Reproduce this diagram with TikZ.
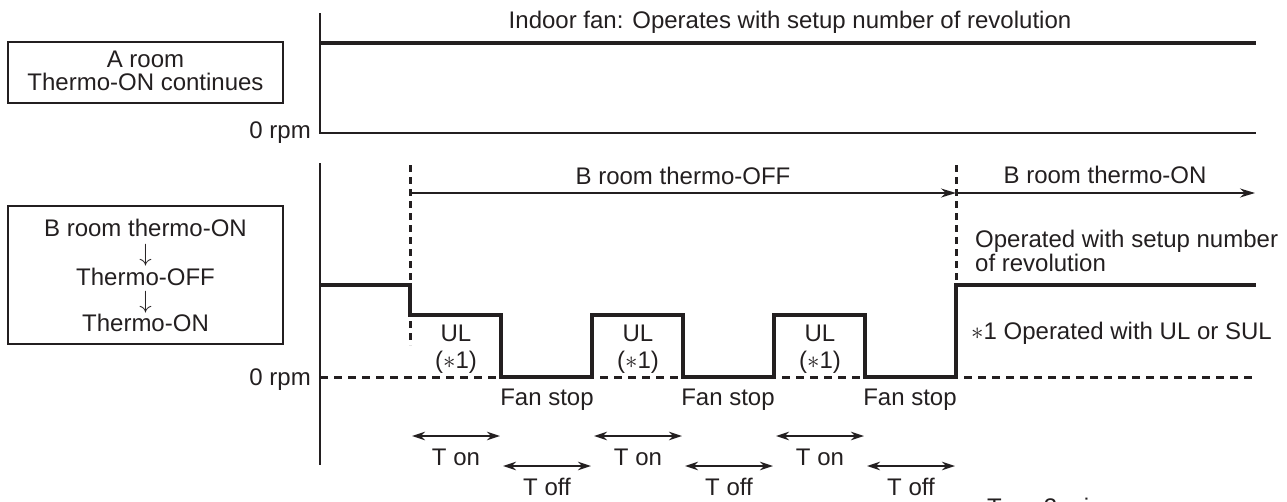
\documentclass[tikz,border=0pt]{standalone}
\usepackage{fontspec}
\setmainfont{Liberation Sans}
\usetikzlibrary{arrows.meta}
\definecolor{ink}{HTML}{231F20}
\begin{document}
\begin{tikzpicture}[x=1pt,y=-1pt,
  font=\fontsize{24}{27}\selectfont,
  every node/.style={inner sep=0pt, text=ink},
  lbl/.style={anchor=base},
  lbll/.style={anchor=base west},
  lblr/.style={anchor=base east},
  box/.style={draw=ink, line width=2.4pt, rectangle},
  axis/.style={draw=ink, line width=2.6pt},
  wave/.style={draw=ink, line width=4pt, line join=miter},
  zeroline/.style={draw=ink, line width=3pt, dash pattern=on 8pt off 6pt},
  vdash/.style={draw=ink, line width=3pt, dash pattern=on 7pt off 5pt},
  span/.style={draw=ink, line width=1.6pt, -{Stealth[length=15pt,width=9pt]}},
  dim/.style={draw=ink, line width=1.6pt, {Stealth[length=13pt,width=8.5pt]}-{Stealth[length=13pt,width=8.5pt]}}
]
\useasboundingbox (0,0) rectangle (1287,501);

% ---------- upper chart ----------
\node[box, minimum width=275pt, minimum height=61pt] (boxA) at (145.5,72.5) {};
\node[lbl] (boxAa) at (145.5,67) {A room};
\node[lbl] (boxAb) at (145.5,90) {Thermo-ON continues};

\coordinate (ta0) at (320,13);
\coordinate (tz0) at (320,133);
\coordinate (tz1) at (1256,133);
\coordinate (tl0) at (320,43);
\coordinate (tl1) at (1256,43);
\draw[axis] (ta0) -- (tz0) -- (tz1);
\draw[wave] (tl0) -- (tl1);
\node[lbl] (topt) at (790,28) {Indoor fan: Operates with setup number of revolution};
\node[lblr] (rpmA) at (311,138) {0 rpm};

% ---------- lower chart ----------
\node[box, minimum width=275pt, minimum height=138pt] (boxB) at (145.5,275) {};
\node[lbl] (boxB1) at (145.5,236) {B room thermo-ON};
\node[lbl] (boxB2) at (145.5,261) {$\downarrow$};
\node[lbl] (boxB3) at (145.5,285) {Thermo-OFF};
\node[lbl] (boxB4) at (145.5,308) {$\downarrow$};
\node[lbl] (boxB5) at (145.5,331) {Thermo-ON};

\coordinate (ba0) at (320,163);
\coordinate (ba1) at (320,465);
\draw[axis] (ba0) -- (ba1);
\coordinate (z0) at (320,377);
\coordinate (z1) at (1256,377);
\draw[zeroline] (z0) -- (z1);
\node[lblr] (rpmB) at (311,385) {0 rpm};

% vertical dashed markers
\coordinate (d1t) at (410,165);
\coordinate (d1b) at (410,345);
\coordinate (d2t) at (956,165);
\coordinate (d2b) at (956,285);
\draw[vdash] (d1t) -- (d1b);
\draw[vdash] (d2t) -- (d2b);

% waveform
\coordinate (w0) at (320,285);
\coordinate (w1) at (410,285);
\coordinate (w2) at (410,315);
\coordinate (w3) at (501,315);
\coordinate (w4) at (501,377);
\coordinate (w5) at (592,377);
\coordinate (w6) at (592,315);
\coordinate (w7) at (683,315);
\coordinate (w8) at (683,377);
\coordinate (w9) at (774,377);
\coordinate (w10) at (774,315);
\coordinate (w11) at (865,315);
\coordinate (w12) at (865,377);
\coordinate (w13) at (956,377);
\coordinate (w14) at (956,285);
\coordinate (w15) at (1256,285);
\draw[wave] (w0) -- (w1) -- (w2) -- (w3) -- (w4) -- (w5) -- (w6) -- (w7) -- (w8)
  -- (w9) -- (w10) -- (w11) -- (w12) -- (w13) -- (w14) -- (w15);

% period arrows
\coordinate (p0) at (410,193);
\coordinate (p1) at (956,193);
\coordinate (p2) at (1255,193);
\draw[span] (p0) -- (p1);
\draw[span] (p1) -- (p2);
\node[lbl] (offlbl) at (683,184) {B room thermo-OFF};
\node[lbl] (onlbl) at (1105,183) {B room thermo-ON};

\node[lbll] (op1) at (975,247) {Operated with setup number};
\node[lbll] (op2) at (975,271) {of revolution};
\node[lbll] (note) at (971,339) {$\ast$1 Operated with UL or SUL};

% UL labels
\node[lbl] (ul1) at (456,341) {UL};
\node[lbl] (ul1b) at (456,368) {($\ast$1)};
\node[lbl] (ul2) at (638,341) {UL};
\node[lbl] (ul2b) at (638,368) {($\ast$1)};
\node[lbl] (ul3) at (820,341) {UL};
\node[lbl] (ul3b) at (820,368) {($\ast$1)};

% fan stop labels
\node[lbl] (fs1) at (547,405) {Fan stop};
\node[lbl] (fs2) at (728,405) {Fan stop};
\node[lbl] (fs3) at (910,405) {Fan stop};

% T on / T off dimension arrows
\coordinate (on1a) at (412,436); \coordinate (on1b) at (500,436);
\coordinate (on2a) at (594,436); \coordinate (on2b) at (682,436);
\coordinate (on3a) at (776,436); \coordinate (on3b) at (864,436);
\coordinate (of1a) at (503,466); \coordinate (of1b) at (591,466);
\coordinate (of2a) at (685,466); \coordinate (of2b) at (773,466);
\coordinate (of3a) at (867,466); \coordinate (of3b) at (955,466);
\draw[dim] (on1a) -- (on1b);
\draw[dim] (on2a) -- (on2b);
\draw[dim] (on3a) -- (on3b);
\draw[dim] (of1a) -- (of1b);
\draw[dim] (of2a) -- (of2b);
\draw[dim] (of3a) -- (of3b);
\node[lbl] (ton1) at (456,465) {T on};
\node[lbl] (ton2) at (638,465) {T on};
\node[lbl] (ton3) at (820,465) {T on};
\node[lbl] (tof1) at (547,495) {T off};
\node[lbl] (tof2) at (729,495) {T off};
\node[lbl] (tof3) at (911,495) {T off};

% partly visible note at the lower edge
\begin{scope}
  \clip (0,0) rectangle (1287,501);
  \node[lbll] (tnote) at (987,515) {T\hspace{14pt}=\hspace{14pt}3 min};
\end{scope}
\end{tikzpicture}
\end{document}
